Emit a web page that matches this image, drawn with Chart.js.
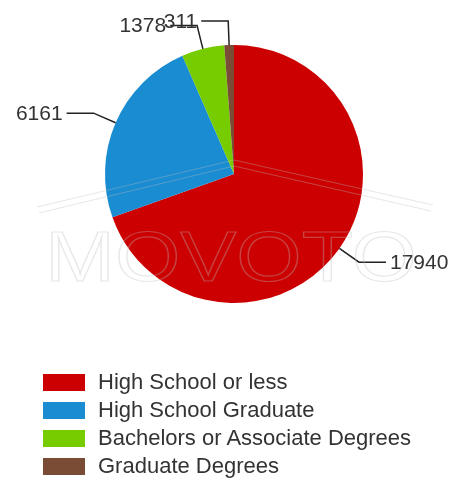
<!DOCTYPE html>
<html lang="en">
<head>
  <meta charset="UTF-8" />
  <title>Education Levels</title>
  <script src="https://cdn.jsdelivr.net/npm/chart.js"></script>
  <style>
    body {
      margin: 0;
      background: #ffffff;
      font-family: 'Liberation Sans', Arial, sans-serif;
    }
    .wrap {
      position: relative;
      width: 454px;
      height: 481px;
    }
    .legend {
      position: absolute;
      left: 43px;
      top: 368px;
      color: #333;
      font-size: 22px;
    }
    .legend div {
      height: 28px;
      line-height: 27px;
      white-space: nowrap;
    }
    .legend span {
      display: inline-block;
      width: 42px;
      height: 17px;
      margin-right: 13px;
      vertical-align: -2px;
    }
  </style>
</head>
<body>

<div class="wrap">
  <canvas id="eduChart" width="454" height="481"></canvas>
  <div class="legend" id="legend"></div>
</div>

<script>
  const categories = ['High School or less', 'High School Graduate', 'Bachelors or Associate Degrees', 'Graduate Degrees'];
  const counts = [17940, 6161, 1378, 311];
  const colors = ['#cc0000', '#1a8cd2', '#77cc00', '#7a4c36'];

  // labels outside the pie with elbow leader lines
  const outLabels = {
    id: 'outLabels',
    afterDatasetsDraw(chart) {
      const ctx = chart.ctx;
      const arcs = chart.getDatasetMeta(0).data;
      ctx.save();
      ctx.strokeStyle = '#222';
      ctx.lineWidth = 1.5;
      ctx.fillStyle = '#333';
      ctx.font = '21px "Liberation Sans", Arial, sans-serif';
      ctx.textBaseline = 'middle';
      arcs.forEach((arc, i) => {
        const mid = (arc.startAngle + arc.endAngle) / 2;
        const dx = Math.cos(mid), dy = Math.sin(mid);
        const x0 = arc.x + dx * arc.outerRadius, y0 = arc.y + dy * arc.outerRadius;
        const x1 = arc.x + dx * (arc.outerRadius + 24), y1 = arc.y + dy * (arc.outerRadius + 24);
        const dir = dx >= 0 ? 1 : -1;
        const x2 = x1 + dir * 27;
        ctx.beginPath();
        ctx.moveTo(x0, y0);
        ctx.lineTo(x1, y1);
        ctx.lineTo(x2, y1);
        ctx.stroke();
        ctx.textAlign = dir > 0 ? 'left' : 'right';
        ctx.fillText(String(counts[i]), x2 + dir * 4, y1 + 1);
      });
      ctx.restore();
    },
    afterDraw(chart) {
      // faint MOVOTO watermark
      const ctx = chart.ctx;
      ctx.save();
      ctx.strokeStyle = 'rgba(190,190,190,0.35)';
      ctx.lineWidth = 1.2;
      ctx.beginPath();
      ctx.moveTo(37, 207); ctx.lineTo(234, 160); ctx.lineTo(433, 205);
      ctx.moveTo(39, 213); ctx.lineTo(234, 166); ctx.lineTo(431, 211);
      ctx.stroke();
      ctx.translate(45, 281);
      ctx.scale(1.2, 1);
      ctx.font = '70px "Liberation Sans", Arial, sans-serif';
      ctx.textAlign = 'left';
      ctx.textBaseline = 'alphabetic';
      ctx.strokeText('MOVOTO', 0, 0);
      ctx.restore();
    }
  };

  const ctxPie = document.getElementById('eduChart').getContext('2d');
  new Chart(ctxPie, {
    type: 'pie',
    data: {
      labels: categories,
      datasets: [{
        data: counts,
        backgroundColor: colors,
        borderWidth: 0
      }]
    },
    options: {
      responsive: false,
      animation: false,
      layout: {
        padding: { top: 45, bottom: 178, left: 105, right: 91 }
      },
      plugins: {
        legend: { display: false },
        tooltip: { enabled: false }
      }
    },
    plugins: [outLabels]
  });

  // legend below the pie
  const legend = document.getElementById('legend');
  categories.forEach((name, i) => {
    const row = document.createElement('div');
    row.innerHTML = '<span style="background:' + colors[i] + '"></span>' + name;
    legend.appendChild(row);
  });
</script>

</body>
</html>
